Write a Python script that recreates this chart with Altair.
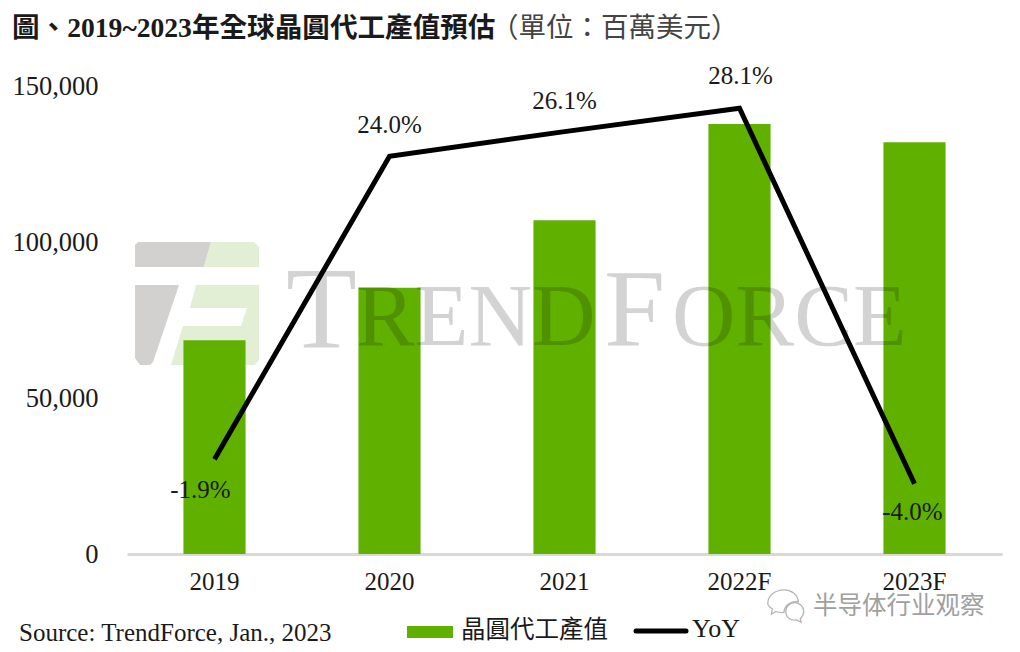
import altair as alt
import pandas as pd

categories = ["2019", "2020", "2021", "2022F", "2023F"]
foundry_value = [68500, 85300, 107000, 137800, 132000]
yoy = [-1.9, 24.0, 26.1, 28.1, -4.0]
yoy_labels = ["-1.9%", "24.0%", "26.1%", "28.1%", "-4.0%"]
label_dx = [-14, 0, 0, 1, -2]
label_dy = [31, -31, -31, -32, 28]

title_bold = "圖、2019~2023年全球晶圓代工產值預估"
title_unit = "（單位：百萬美元）"
source_text = "Source: TrendForce, Jan., 2023"
legend_bar = "晶圓代工產值"
legend_line = "YoY"
wechat_text = "半导体行业观察"

SERIF = "Liberation Serif, Noto Sans CJK TC"
OX, OY = 127, 86  # plot origin on the page

df = pd.DataFrame({"cat": categories, "v": foundry_value, "yoy": yoy, "lab": yoy_labels})
one = alt.Data(values=[{"a": 1}])
xs = alt.X("cat:N", sort=categories, title=None,
           scale=alt.Scale(paddingInner=0.645, paddingOuter=0.3225),
           axis=alt.Axis(labelAngle=0, labelFont=SERIF, labelFontSize=25, labelColor="#1a1a1a",
                         labelPadding=15, ticks=False, domainColor="#d9d9d9", domainWidth=3, grid=False))


def path(points):
    cx, cy, half = 197, 304, 62.5
    return "M" + "L".join(f"{(x-cx)/half:.3f},{(y-cy)/half:.3f}" for x, y in points) + "Z"


def logo(points, color):
    return alt.Chart(one).mark_point(shape=path(points), filled=True, size=15625, fill=color,
                                     opacity=1, strokeWidth=0).encode(
        x=alt.value(197 - OX), y=alt.value(304 - OY))


def txt(s, x, y, size, align="left", color="#1a1a1a", weight="normal", font=SERIF, opacity=1.0):
    return alt.Chart(one).mark_text(text=s, align=align, baseline="middle", font=font, fontSize=size,
                                    color=color, fontWeight=weight, opacity=opacity).encode(
        x=alt.value(x - OX), y=alt.value(y - OY))


logos = [
    logo([(138, 242), (211, 242), (204, 267), (135, 267), (135, 245)], "#d2d1d0"),
    logo([(211, 242), (254, 242), (259, 247), (259, 267), (204, 267)], "#e2efd5"),
    logo([(135, 285), (179, 285), (153, 362), (150, 365), (140, 365), (135, 358)], "#d2d1d0"),
    logo([(196, 285), (259, 285), (259, 360), (255, 365), (171, 365), (183, 326), (241, 326),
          (247, 308), (190, 308)], "#e2efd5"),
]

bars = alt.Chart(df).mark_bar(color="#60b000").encode(
    x=xs,
    y=alt.Y("v:Q", title=None, scale=alt.Scale(domain=[0, 150000]),
            axis=alt.Axis(values=[0, 50000, 100000, 150000], format=",.0f", labelFont=SERIF, labelFontSize=26.5,
                          labelColor="#1a1a1a", labelPadding=29, ticks=False, domain=False, grid=False)),
)

wm_color = "#000000"
wm = [
    txt("T", 286, 313, 116, color=wm_color, opacity=0.17),
    txt("REND", 356, 319, 88, color=wm_color, opacity=0.17),
    txt("F", 604, 313, 110, color=wm_color, opacity=0.17),
    txt("ORCE", 672, 319, 88, color=wm_color, opacity=0.17),
]

yy = alt.Y("yoy:Q", title=None, scale=alt.Scale(domain=[-10, 30]), axis=None)
line = alt.Chart(df).mark_line(color="#000000", strokeWidth=5, strokeJoin="miter").encode(x=xs, y=yy)

labels = [
    alt.Chart(df[df["cat"] == c]).mark_text(font=SERIF, fontSize=25, color="#1a1a1a", dx=dx, dy=dy,
                                            baseline="middle").encode(x=xs, y=yy, text="lab:N")
    for c, dx, dy in zip(categories, label_dx, label_dy)
]

title = [
    txt(title_bold, 12, 29, 27.6, weight="bold"),
    txt(title_unit, 491, 29, 27.5, color="#444444"),
]
legend = [
    txt(source_text, 19, 633, 25),
    alt.Chart(one).mark_rect(color="#60b000").encode(
        x=alt.value(407 - OX), x2=alt.value(453 - OX), y=alt.value(626 - OY), y2=alt.value(638 - OY)),
    txt(legend_bar, 461, 631, 24.5),
    alt.Chart(one).mark_rule(color="#000000", strokeWidth=5, strokeCap="round").encode(
        x=alt.value(636 - OX), x2=alt.value(686 - OX), y=alt.value(631 - OY)),
    txt(legend_line, 692, 629, 26),
]
stamp = [
    txt(wechat_text, 813, 607, 24.5, color="#a0a0a0", font="Noto Sans CJK SC"),
    alt.Chart(one).mark_point(
        shape="M-0.9,-0.2C-0.9,-0.7 -0.4,-0.95 0,-0.95C0.4,-0.95 0.75,-0.7 0.8,-0.3C0.4,-0.35 0,-0.1 0,0.3C-0.2,0.32 -0.35,0.3 -0.45,0.25L-0.7,0.4L-0.65,0.1C-0.8,0 -0.9,-0.1 -0.9,-0.2Z"
              "M0.1,0.25C0.1,-0.1 0.4,-0.25 0.6,-0.25C0.85,-0.25 1.1,0 1.1,0.25C1.1,0.45 1,0.55 0.9,0.65L0.95,0.85L0.7,0.72C0.4,0.78 0.1,0.6 0.1,0.25Z",
        filled=False, size=1300, stroke="#b5b5b5", strokeWidth=1.3, opacity=1).encode(
        x=alt.value(784 - OX), y=alt.value(607 - OY)),
]

chart = alt.layer(*logos, bars, *wm, line, *labels, *title, *legend, *stamp).resolve_scale(
    y="independent"
).properties(
    width=875, height=468,
    background="#ffffff",
    padding={"left": OX - 8, "top": OY - 8, "right": 9, "bottom": 92},
    autosize=alt.AutoSizeParams(type="none"),
).configure_view(strokeWidth=0, stroke="transparent")

chart.save("out.html", embed_options={"renderer": "svg", "actions": False})
